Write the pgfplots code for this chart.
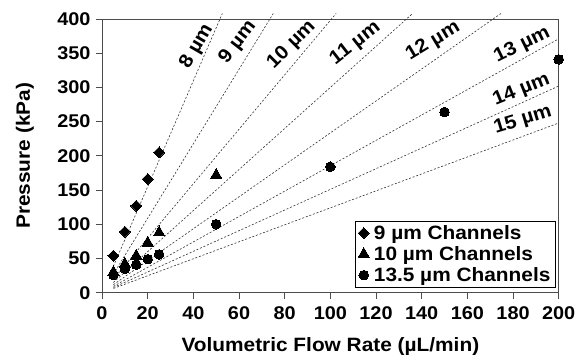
\documentclass[border=0pt]{standalone}
\usepackage{fontspec}
\setmainfont{Liberation Sans}[FakeStretch=1.08]
\usepackage{pgfplots}
\pgfplotsset{compat=1.18}
\newcommand{\bigf}{\fontsize{19.3}{22}\selectfont\bfseries}
\newcommand{\tickf}{\fontsize{18.4}{21}\selectfont\bfseries}
\begin{document}
\begin{tikzpicture}
\begin{axis}[
  scale only axis,
  width=456.7pt, height=273.7pt,
  xmin=0, xmax=200, ymin=0, ymax=400,
  xtick={0,20,...,200}, ytick={0,50,...,400},
  tick align=outside, tick pos=left,
  major tick length=6pt,
  /pgf/number format/assume math mode=true,
  tick label style={font=\tickf},
  xticklabel style={yshift=-4pt},
  yticklabel style={xshift=-2pt},
  axis line style={black!70, line width=0.9pt},
  every tick/.style={black!70, line width=0.9pt},
  xlabel={Volumetric Flow Rate (µL/min)},
  ylabel={Pressure (kPa)},
  every axis x label/.style={at={(axis description cs:0.5,-0.197)}, anchor=center, font=\bigf},
  every axis y label/.style={at={(axis description cs:-0.1686,0.5)}, anchor=center, rotate=90, font=\bigf},
  clip=false,
  legend style={at={(0.9926,0.018)}, anchor=south east, font=\bigf,
    draw=black, line width=0.8pt, inner xsep=3pt, inner ysep=3pt, row sep=2.5pt,
    nodes={inner sep=1.5pt},
    /tikz/every odd column/.append style={column sep=3pt},
    legend cell align=left},
  legend image post style={line width=0pt},
]
% dashed lines
\pgfplotsset{dl/.style={black!80, line width=0.6pt, dash pattern=on 2pt off 1.8pt, forget plot}}
\addplot[dl] coordinates {(5,38.7) (52.7,408)};
\addplot[dl] coordinates {(5,27.2) (75.0,408)};
\addplot[dl] coordinates {(5,19.9) (102.5,408)};
\addplot[dl] coordinates {(5,15.0) (136.0,408)};
\addplot[dl] coordinates {(5,11.7) (174.7,408)};
\addplot[dl] coordinates {(5,9.3) (200,371)};
\addplot[dl] coordinates {(5,7.6) (200,302)};
\addplot[dl] coordinates {(5,6.2) (200,248)};
% data
\addplot[only marks, mark=square*, mark size=3.9pt, mark options={rotate=45, fill=black, draw=black, line width=0pt}]
  coordinates {(5,54) (10,89) (15,127) (20,166) (25,205)};
\addlegendentry{9 µm Channels}
\addplot[only marks, mark=triangle*, mark size=6.5pt, mark options={fill=black, draw=black, line width=0pt}]
  coordinates {(5,30) (10,42) (15,54) (20,73) (25,88) (50,172)};
\addlegendentry{10 µm Channels}
\addplot[only marks, mark=*, mark size=4.8pt, mark options={fill=black, draw=black, line width=0pt}]
  coordinates {(5,26) (10,35) (15,41) (20,49) (25,56) (50,100) (100,184) (150,264) (200,341)};
\addlegendentry{13.5 µm Channels}
% labels
\node[font=\bigf, rotate=60] at (axis cs:41.5,360) {8 µm};
\node[font=\bigf, rotate=52] at (axis cs:59.5,366) {9 µm};
\node[font=\bigf, rotate=45] at (axis cs:83,362) {10 µm};
\node[font=\bigf, rotate=38] at (axis cs:111,364) {11 µm};
\node[font=\bigf, rotate=31] at (axis cs:145,367) {12 µm};
\node[font=\bigf, rotate=26] at (axis cs:184,362) {13 µm};
\node[font=\bigf, rotate=22] at (axis cs:183.7,296) {14 µm};
\node[font=\bigf, rotate=17] at (axis cs:184.3,252) {15 µm};
\coordinate (sw) at (rel axis cs:0,0);
\coordinate (ne) at (rel axis cs:1,1);
\end{axis}
\path (sw) ++(-102pt,-65.3pt);
\path (ne) ++(26.3pt,19pt);
\end{tikzpicture}
\end{document}
